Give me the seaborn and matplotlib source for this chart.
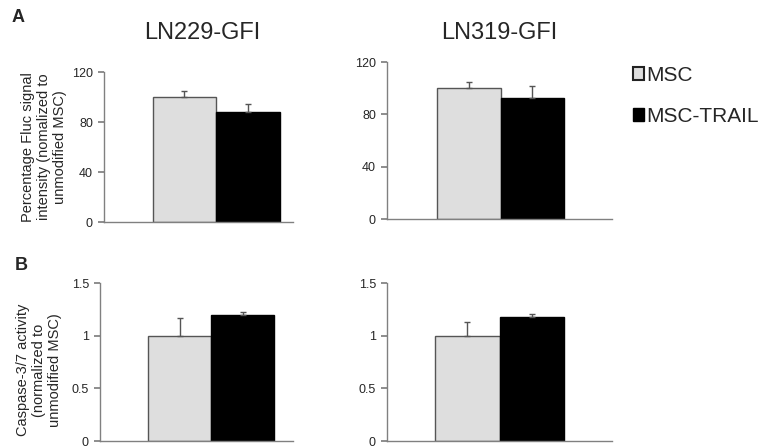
import matplotlib
matplotlib.use("Agg")
import matplotlib.pyplot as plt
import seaborn as sns
import pandas as pd
from matplotlib.patches import Patch

sns.set_theme(style="white")
plt.rcParams['font.family'] = ['Liberation Sans', 'DejaVu Sans']

groups = ["MSC", "MSC-TRAIL"]
cells = ["LN229-GFI", "LN319-GFI"]
fluc_ln229 = [100, 88]
fluc_ln229_err = [5, 6]
fluc_ln319 = [100, 92.5]
fluc_ln319_err = [4.5, 9]
casp_ln229 = [1.0, 1.2]
casp_ln229_err = [0.17, 0.02]
casp_ln319 = [1.0, 1.18]
casp_ln319_err = [0.13, 0.03]

fluc_ticks = [0, 40, 80, 120]
casp_ticks = [0, 0.5, 1, 1.5]
casp_ticklabels = ["0", "0.5", "1", "1.5"]

colors = {"MSC": "#dedede", "MSC-TRAIL": "#000000"}
edges = ["#555555", "#000000"]
spine_col = "#808080"

W, H = 761, 448
fig = plt.figure(figsize=(W / 100, H / 100), dpi=100)

def add_ax(l, r, t, b):
    return fig.add_axes([l / W, 1 - b / H, (r - l) / W, (b - t) / H])

panels = [
    (add_ax(104, 293, 72, 222), cells[0], fluc_ln229, fluc_ln229_err, (0, 120), fluc_ticks, [str(t) for t in fluc_ticks], (-0.705, 0.483)),
    (add_ax(387, 612, 62, 219), cells[1], fluc_ln319, fluc_ln319_err, (0, 120), fluc_ticks, [str(t) for t in fluc_ticks], (-0.715, 0.702)),
    (add_ax(100, 293, 283, 441), cells[0], casp_ln229, casp_ln229_err, (0, 1.5), casp_ticks, casp_ticklabels, (-0.705, 0.52)),
    (add_ax(387, 612, 283, 441), cells[1], casp_ln319, casp_ln319_err, (0, 1.5), casp_ticks, casp_ticklabels, (-0.698, 0.698)),
]

for i, (ax, cell, vals, errs, ylim, ticks, tlabels, xlim) in enumerate(panels):
    df = pd.DataFrame({"cell": [cell] * 2, "group": groups, "value": vals})
    sns.barplot(data=df, x="cell", y="value", hue="group", palette=colors,
                hue_order=groups, errorbar=None, width=0.8, ax=ax, legend=False,
                saturation=1)
    bars = [p for p in ax.patches][:2]
    for p, ec, err in zip(bars, edges, errs):
        p.set_edgecolor(ec)
        p.set_linewidth(1.0)
        xc = p.get_x() + p.get_width() / 2
        top = p.get_height()
        ax.errorbar([xc], [top], yerr=[[0], [err]], fmt="none",
                    ecolor="#555555", elinewidth=1.0, capsize=2.5, capthick=1.0, zorder=1)
    ax.set_xlim(*xlim)
    ax.set_ylim(*ylim)
    ax.set_yticks(ticks)
    ax.set_yticklabels(tlabels)
    ax.set_xticks([])
    ax.set_xlabel("")
    ax.set_ylabel("")
    for s in ["top", "right"]:
        ax.spines[s].set_visible(False)
    for s in ["left", "bottom"]:
        ax.spines[s].set_color(spine_col)
        ax.spines[s].set_linewidth(1.0)
    ax.tick_params(axis="y", direction="out", length=4.5, color=spine_col,
                   labelsize=9, pad=3.5, left=True)

# Titles at the same height, centred on each column
for ax, cell in [(panels[0][0], cells[0]), (panels[1][0], cells[1])]:
    pos = ax.get_position()
    fig.text(pos.x0 + pos.width / 2 + (4 / W if cell == cells[0] else 0), 1 - 33 / H, cell,
             fontsize=17, ha="center", va="center")

ax0 = panels[0][0]
ax0.set_ylabel("Percentage Fluc signal\nintensity (nomalized to\nunmodified MSC)",
               fontsize=10.5, linespacing=1.2)
ax0.yaxis.set_label_coords((67 - 104) / 189, 0.5)
ax2 = panels[2][0]
ax2.set_ylabel("Caspase-3/7 activity\n(normalized to\nunmodified MSC)",
               fontsize=10.5, linespacing=1.2)
ax2.yaxis.set_label_coords((62 - 100) / 193, 0.45)

fig.text(18 / W, 1 - 18 / H, "A", fontsize=13, fontweight="bold", va="center", ha="center")
fig.text(21 / W, 1 - 266 / H, "B", fontsize=13, fontweight="bold", va="center", ha="center")

handles = [Patch(facecolor=colors["MSC"], edgecolor="#222222", linewidth=1.5),
           Patch(facecolor=colors["MSC-TRAIL"], edgecolor="#000000", linewidth=1.0)]
fig.legend(handles, groups, loc="upper left", bbox_to_anchor=(633 / W, 1 - 66 / H),
           frameon=False, fontsize=15, handlelength=0.55, handleheight=0.55,
           handletextpad=0.1, labelspacing=1.05, borderaxespad=0, borderpad=0)

fig.savefig("out.png", dpi=100)
